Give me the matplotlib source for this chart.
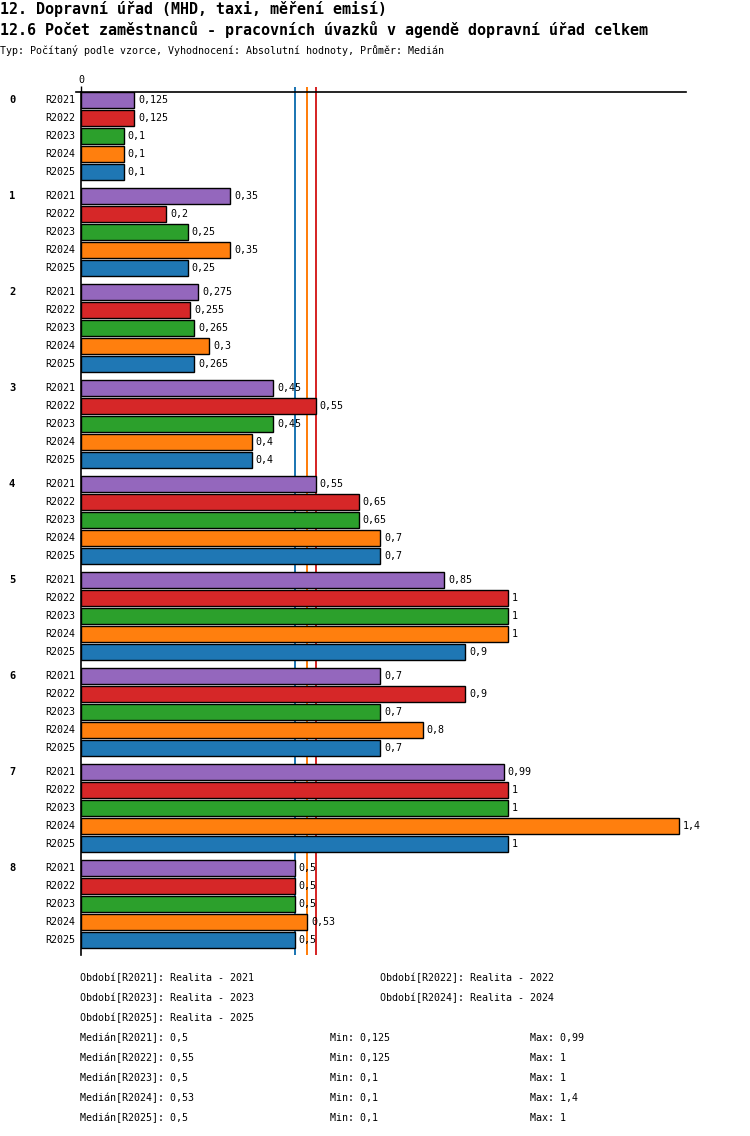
import numpy as np
import matplotlib
matplotlib.use("Agg")
import matplotlib.pyplot as plt
import matplotlib.transforms as mtransforms
from matplotlib.lines import Line2D

# ---- data ----
groups = ["0", "1", "2", "3", "4", "5", "6", "7", "8"]
periods = ["R2021", "R2022", "R2023", "R2024", "R2025"]
R2021 = [0.125, 0.35, 0.275, 0.45, 0.55, 0.85, 0.7, 0.99, 0.5]
R2022 = [0.125, 0.2, 0.255, 0.55, 0.65, 1, 0.9, 1, 0.5]
R2023 = [0.1, 0.25, 0.265, 0.45, 0.65, 1, 0.7, 1, 0.5]
R2024 = [0.1, 0.35, 0.3, 0.4, 0.7, 1, 0.8, 1.4, 0.53]
R2025 = [0.1, 0.25, 0.265, 0.4, 0.7, 0.9, 0.7, 1, 0.5]
series = [R2021, R2022, R2023, R2024, R2025]
colors = ["#9467bd", "#d62728", "#2ca02c", "#ff7f0e", "#1f77b4"]
period_names = ["Realita - 2021", "Realita - 2022", "Realita - 2023",
                "Realita - 2024", "Realita - 2025"]

title1 = "12. Dopravní úřad (MHD, taxi, měření emisí)"
title2 = "12.6 Počet zaměstnanců - pracovních úvazků v agendě dopravní úřad celkem"
title3 = "Typ: Počítaný podle vzorce, Vyhodnocení: Absolutní hodnoty, Průměr: Medián"

def fmt(v):
    return f"{v:g}".replace(".", ",")

W, H = 750, 1136
fig = plt.figure(figsize=(W / 100, H / 100), dpi=100)
mono = "DejaVu Sans Mono"

def fx(px):
    return px / W

def fy(py):
    return 1 - py / H

# titles
fig.text(fx(0), fy(14), title1, fontsize=10.8, fontweight="bold", family=mono, va="baseline", ha="left")
fig.text(fx(0), fy(35), title2, fontsize=10.8, fontweight="bold", family=mono, va="baseline", ha="left")
fig.text(fx(0), fy(54), title3, fontsize=7.2, family=mono, va="baseline", ha="left")

# axes
left, right, top, bottom = 81, 686, 92, 955
ax = fig.add_axes([fx(left), fy(bottom), (right - left) / W, (bottom - top) / H])
scale = 427.0
xmax = (right - left) / scale
ax.set_xlim(0, xmax)

group_step, bar_step = 96, 18
last = (len(groups) - 1) * group_step + (len(periods) - 1) * bar_step
ax.set_ylim(last + 15, -8)

for s in ["right", "bottom", "top"]:
    ax.spines[s].set_visible(False)
ax.spines["left"].set_linewidth(1.2)
ax.set_yticks([])
ax.xaxis.tick_top()
ax.set_xticks([0])
ax.set_xticklabels(["0"], family=mono, fontsize=7.2)
ax.tick_params(axis="x", length=4, width=1, pad=1)

# top line
fig.add_artist(Line2D([fx(76), fx(686)], [fy(92), fy(92)], color="black", lw=1.2))

# median lines (behind bars)
for s, c in zip(series, colors):
    m = np.median(s)
    ax.vlines(m, -13, last + 15, colors=c, lw=1.2, zorder=1, clip_on=False,
              antialiased=False)

blend = mtransforms.blended_transform_factory(fig.transFigure, ax.transData)

for gi, g in enumerate(groups):
    base = gi * group_step
    ax.text(fx(12), base, g, transform=blend, fontsize=7.5, fontweight="bold",
            family=mono, va="center", ha="center")
    for pi, (p, s, c) in enumerate(zip(periods, series, colors)):
        y = base + pi * bar_step
        v = s[gi]
        ax.barh(y, v, height=15.5, color=c, edgecolor="black", linewidth=1, zorder=2)
        ax.annotate(p, xy=(0, y), xytext=(-6, 0), textcoords="offset pixels",
                    ha="right", va="center", fontsize=7.2, family=mono)
        ax.annotate(fmt(v), xy=(v, y), xytext=(4, 0), textcoords="offset pixels",
                    ha="left", va="center", fontsize=7.2, family=mono)

# legend text
ls = 7.2
items = [(80, 978, 0), (380, 978, 1), (80, 998, 2), (380, 998, 3), (80, 1018, 4)]
for x, y, i in items:
    fig.text(fx(x), fy(y), f"Období[{periods[i]}]: {period_names[i]}", fontsize=ls,
             family=mono, va="center", ha="left")
for i, (p, s) in enumerate(zip(periods, series)):
    y = 1038 + 20 * i
    fig.text(fx(80), fy(y), f"Medián[{p}]: {fmt(np.median(s))}", fontsize=ls,
             family=mono, va="center", ha="left")
    fig.text(fx(330), fy(y), f"Min: {fmt(min(s))}", fontsize=ls,
             family=mono, va="center", ha="left")
    fig.text(fx(530), fy(y), f"Max: {fmt(max(s))}", fontsize=ls,
             family=mono, va="center", ha="left")

fig.savefig("out.png", dpi=100)
